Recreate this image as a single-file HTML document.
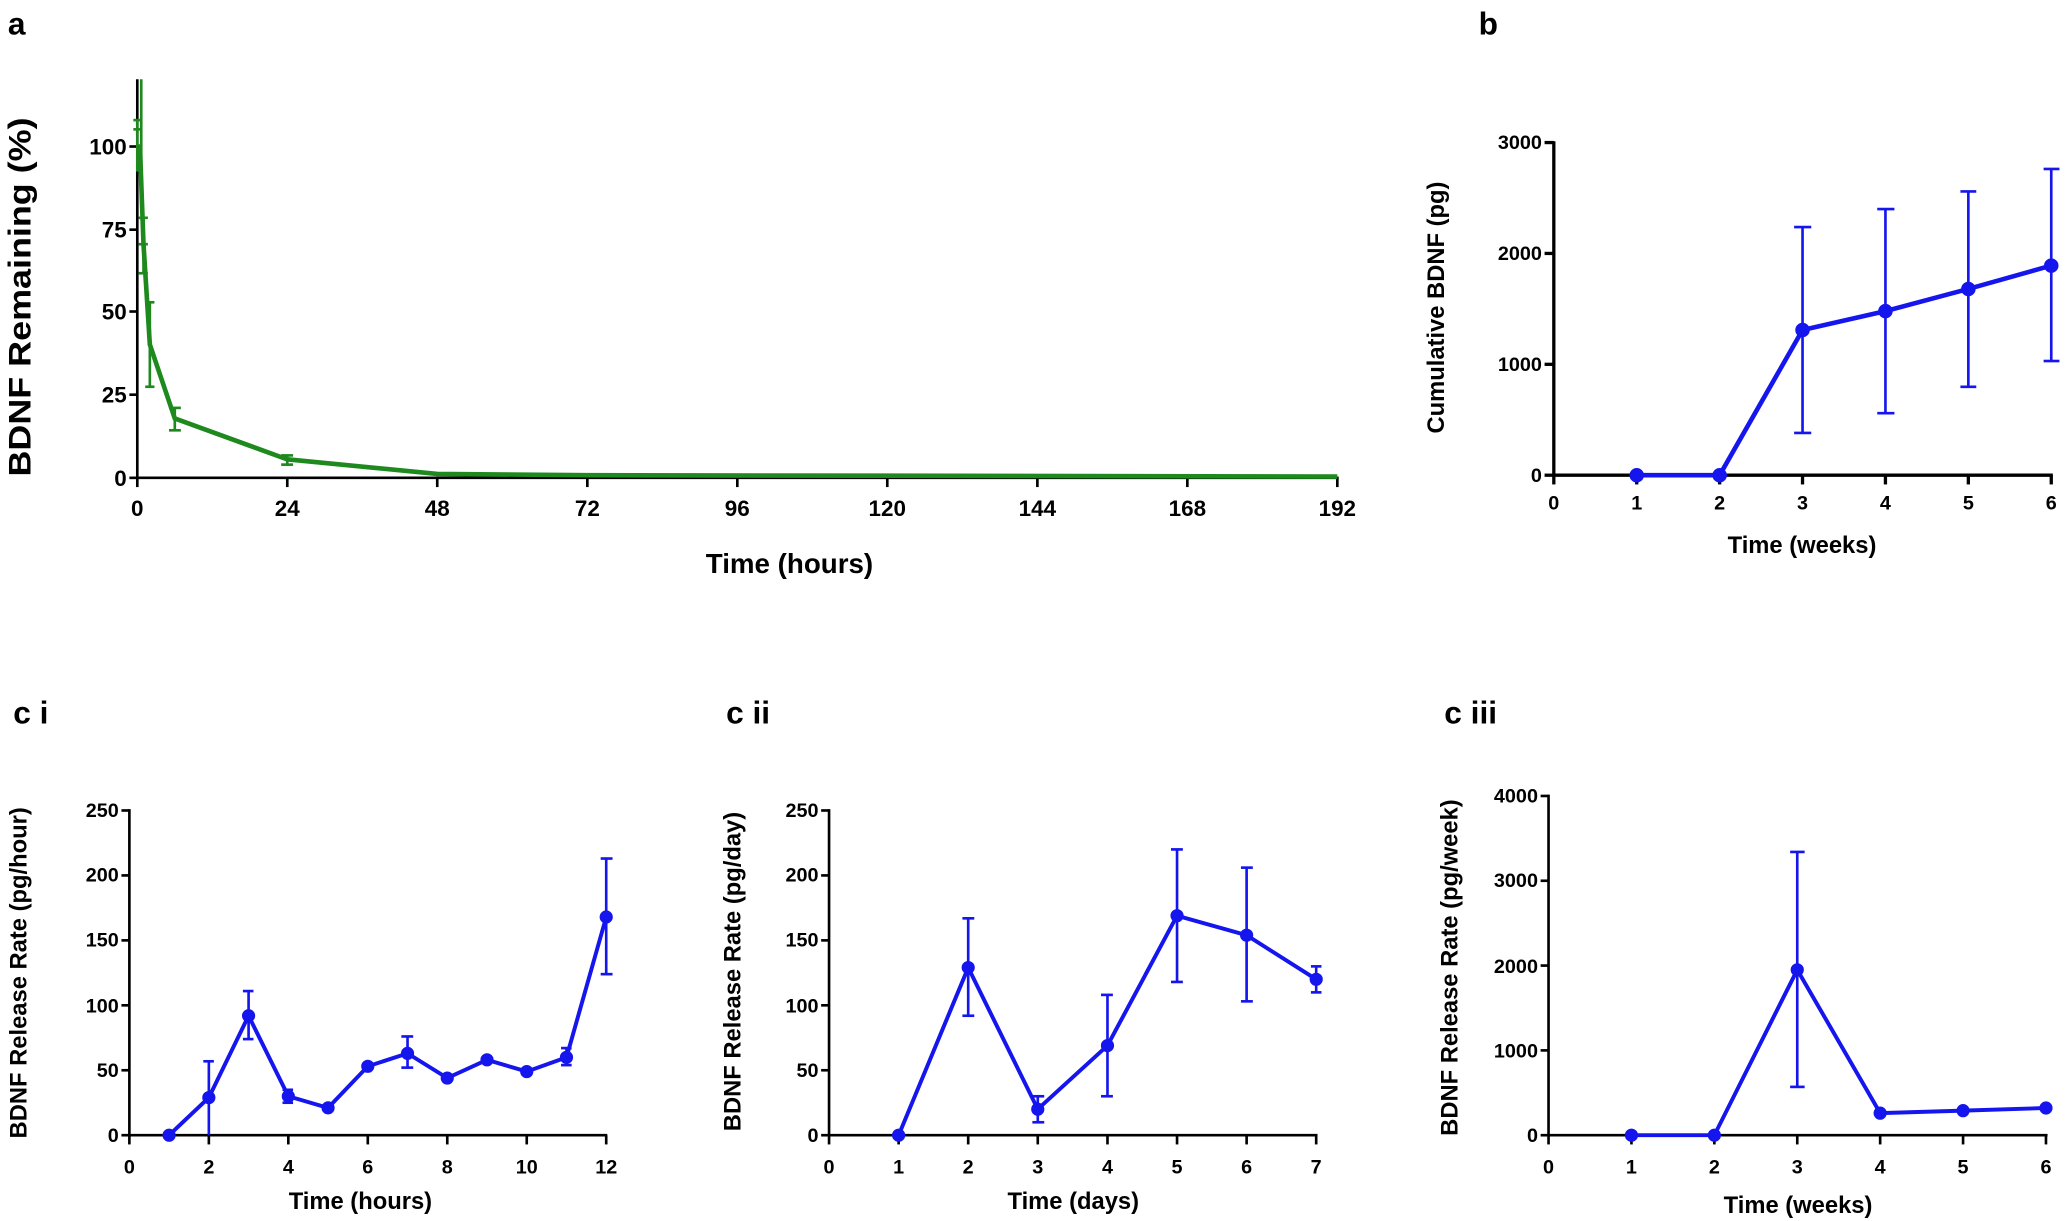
<!DOCTYPE html>
<html><head><style>html,body{margin:0;padding:0;background:#fff}svg{display:block}</style></head>
<body>
<svg width="2070" height="1221" viewBox="0 0 1568 925" preserveAspectRatio="none" xmlns="http://www.w3.org/2000/svg" font-family="Liberation Sans, sans-serif" font-weight="bold">
<rect width="1568" height="925" fill="#fff"/>
<g font-size="24" fill="#000">
<text x="6" y="26">a</text>
<text x="1120" y="26">b</text>
<text x="10" y="548">c i</text>
<text x="550" y="548">c ii</text>
<text x="1094" y="548">c iii</text>
</g>

<!-- Panel a -->
<g stroke="#000" stroke-width="2" fill="none">
<line x1="104" y1="60" x2="104" y2="363"/>
<line x1="103" y1="362" x2="1014" y2="362"/>
<line x1="98" y1="111" x2="104" y2="111"/><line x1="98" y1="174" x2="104" y2="174"/><line x1="98" y1="236" x2="104" y2="236"/><line x1="98" y1="299" x2="104" y2="299"/><line x1="98" y1="362" x2="104" y2="362"/>
<line x1="104" y1="362" x2="104" y2="369"/><line x1="217.6" y1="362" x2="217.6" y2="369"/><line x1="331.2" y1="362" x2="331.2" y2="369"/><line x1="444.9" y1="362" x2="444.9" y2="369"/><line x1="558.5" y1="362" x2="558.5" y2="369"/><line x1="672.1" y1="362" x2="672.1" y2="369"/><line x1="785.8" y1="362" x2="785.8" y2="369"/><line x1="899.4" y1="362" x2="899.4" y2="369"/><line x1="1013" y1="362" x2="1013" y2="369"/>
</g>
<g font-size="17" text-anchor="end" fill="#000">
<text x="96" y="117">100</text><text x="96" y="180">75</text><text x="96" y="242">50</text><text x="96" y="305">25</text><text x="96" y="368">0</text>
</g>
<g font-size="17" text-anchor="middle" fill="#000">
<text x="104" y="391">0</text><text x="217.6" y="391">24</text><text x="331.2" y="391">48</text><text x="444.9" y="391">72</text><text x="558.5" y="391">96</text><text x="672.1" y="391">120</text><text x="785.8" y="391">144</text><text x="899.4" y="391">168</text><text x="1013" y="391">192</text>
</g>
<text x="598" y="434" font-size="21" text-anchor="middle">Time (hours)</text>
<text transform="translate(23,225) rotate(-90)" font-size="24" text-anchor="middle" textLength="272" lengthAdjust="spacingAndGlyphs">BDNF Remaining (%)</text>
<g stroke="#1e8a1e" fill="none">
<polyline stroke-width="3.5" points="104,111 106,111 108.7,185 113.5,261 132.4,317 217.6,348 331.2,359 444.9,360 1013,361"/>
<g stroke-width="2">
<line x1="107" y1="60" x2="107" y2="140"/><line x1="104" y1="91" x2="104" y2="130"/>
<line x1="101" y1="91" x2="107" y2="91"/><line x1="101" y1="98" x2="107" y2="98"/>
<line x1="108.7" y1="165" x2="108.7" y2="207"/><line x1="105" y1="165" x2="112" y2="165"/><line x1="105" y1="207" x2="112" y2="207"/><line x1="105" y1="185" x2="112" y2="185"/>
<line x1="113.5" y1="229" x2="113.5" y2="293"/><line x1="110" y1="229" x2="117" y2="229"/><line x1="110" y1="293" x2="117" y2="293"/>
<line x1="132.4" y1="309" x2="132.4" y2="326"/><line x1="128" y1="309" x2="137" y2="309"/><line x1="128" y1="326" x2="137" y2="326"/>
<line x1="217.6" y1="345" x2="217.6" y2="352"/><line x1="213" y1="345" x2="222" y2="345"/><line x1="213" y1="352" x2="222" y2="352"/>
</g></g>

<!-- Panel b -->
<g stroke="#000" stroke-width="2.5" fill="none">
<line x1="1177" y1="107" x2="1177" y2="361"/><line x1="1176" y1="360" x2="1555" y2="360"/>
<line x1="1170" y1="108" x2="1177" y2="108"/><line x1="1170" y1="192" x2="1177" y2="192"/><line x1="1170" y1="276" x2="1177" y2="276"/><line x1="1170" y1="360" x2="1177" y2="360"/>
<line x1="1177" y1="360" x2="1177" y2="367"/><line x1="1239.8" y1="360" x2="1239.8" y2="367"/><line x1="1302.6" y1="360" x2="1302.6" y2="367"/><line x1="1365.4" y1="360" x2="1365.4" y2="367"/><line x1="1428.2" y1="360" x2="1428.2" y2="367"/><line x1="1491" y1="360" x2="1491" y2="367"/><line x1="1553.8" y1="360" x2="1553.8" y2="367"/>
</g>
<g font-size="15" text-anchor="end"><text x="1168" y="113">3000</text><text x="1168" y="197">2000</text><text x="1168" y="281">1000</text><text x="1168" y="365">0</text></g>
<g font-size="15" text-anchor="middle"><text x="1177" y="386">0</text><text x="1239.8" y="386">1</text><text x="1302.6" y="386">2</text><text x="1365.4" y="386">3</text><text x="1428.2" y="386">4</text><text x="1491" y="386">5</text><text x="1553.8" y="386">6</text></g>
<text x="1365" y="419" font-size="18" text-anchor="middle">Time (weeks)</text>
<text transform="translate(1094,233) rotate(-90)" font-size="18" text-anchor="middle">Cumulative BDNF (pg)</text>
<g stroke="#1515ee" fill="#1515ee">
<polyline fill="none" stroke-width="3.5" points="1239.8,360 1302.6,360 1365.4,250 1428.2,235.7 1491,218.9 1553.8,201.2"/>
<g stroke-width="2">
<line x1="1365.4" y1="172" x2="1365.4" y2="328"/><line x1="1359" y1="172" x2="1372" y2="172"/><line x1="1359" y1="328" x2="1372" y2="328"/>
<line x1="1428.2" y1="158.4" x2="1428.2" y2="313"/><line x1="1422" y1="158.4" x2="1435" y2="158.4"/><line x1="1422" y1="313" x2="1435" y2="313"/>
<line x1="1491" y1="145" x2="1491" y2="293"/><line x1="1485" y1="145" x2="1497" y2="145"/><line x1="1485" y1="293" x2="1497" y2="293"/>
<line x1="1553.8" y1="128" x2="1553.8" y2="273.5"/><line x1="1548" y1="128" x2="1560" y2="128"/><line x1="1548" y1="273.5" x2="1560" y2="273.5"/>
</g>
<circle cx="1239.8" cy="360" r="5"/><circle cx="1302.6" cy="360" r="5"/><circle cx="1365.4" cy="250" r="5"/><circle cx="1428.2" cy="235.7" r="5"/><circle cx="1491" cy="218.9" r="5"/><circle cx="1553.8" cy="201.2" r="5"/>
</g>

<!-- Panel c i -->
<g stroke="#000" stroke-width="2" fill="none">
<line x1="98" y1="613" x2="98" y2="861"/><line x1="97" y1="860" x2="460" y2="860"/>
<line x1="92" y1="614" x2="98" y2="614"/><line x1="92" y1="663.2" x2="98" y2="663.2"/><line x1="92" y1="712.4" x2="98" y2="712.4"/><line x1="92" y1="761.6" x2="98" y2="761.6"/><line x1="92" y1="810.8" x2="98" y2="810.8"/><line x1="92" y1="860" x2="98" y2="860"/>
<line x1="98" y1="860" x2="98" y2="867"/><line x1="158.2" y1="860" x2="158.2" y2="867"/><line x1="218.4" y1="860" x2="218.4" y2="867"/><line x1="278.6" y1="860" x2="278.6" y2="867"/><line x1="338.8" y1="860" x2="338.8" y2="867"/><line x1="399" y1="860" x2="399" y2="867"/><line x1="459.2" y1="860" x2="459.2" y2="867"/>
</g>
<g font-size="15" text-anchor="end"><text x="90" y="619">250</text><text x="90" y="668">200</text><text x="90" y="717">150</text><text x="90" y="767">100</text><text x="90" y="816">50</text><text x="90" y="865">0</text></g>
<g font-size="15" text-anchor="middle"><text x="98" y="889">0</text><text x="158.2" y="889">2</text><text x="218.4" y="889">4</text><text x="278.6" y="889">6</text><text x="338.8" y="889">8</text><text x="399" y="889">10</text><text x="459.2" y="889">12</text></g>
<text x="273" y="916" font-size="18" text-anchor="middle">Time (hours)</text>
<text transform="translate(20,737) rotate(-90)" font-size="18" text-anchor="middle">BDNF Release Rate (pg/hour)</text>
<g stroke="#1515ee" fill="#1515ee">
<polyline fill="none" stroke-width="3" points="128.1,860 158.2,831.5 188.3,769.5 218.4,830.5 248.5,839.3 278.6,807.8 308.7,798 338.8,816.7 368.9,802.9 399,811.8 429.1,801 459.2,694.7"/>
<g stroke-width="2">
<line x1="158.2" y1="804" x2="158.2" y2="860"/><line x1="154" y1="804" x2="162" y2="804"/>
<line x1="188.3" y1="750.8" x2="188.3" y2="787.2"/><line x1="184" y1="750.8" x2="192" y2="750.8"/><line x1="184" y1="787.2" x2="192" y2="787.2"/>
<line x1="218.4" y1="825.6" x2="218.4" y2="835.4"/><line x1="214" y1="825.6" x2="222" y2="825.6"/><line x1="214" y1="835.4" x2="222" y2="835.4"/>
<line x1="308.7" y1="785.2" x2="308.7" y2="808.8"/><line x1="304" y1="785.2" x2="313" y2="785.2"/><line x1="304" y1="808.8" x2="313" y2="808.8"/>
<line x1="429.1" y1="794" x2="429.1" y2="806.9"/><line x1="425" y1="794" x2="433" y2="794"/><line x1="425" y1="806.9" x2="433" y2="806.9"/>
<line x1="459.2" y1="650.4" x2="459.2" y2="738"/><line x1="455" y1="650.4" x2="464" y2="650.4"/><line x1="455" y1="738" x2="464" y2="738"/>
</g>
<circle cx="128.1" cy="860" r="4.5"/><circle cx="158.2" cy="831.5" r="4.5"/><circle cx="188.3" cy="769.5" r="4.5"/><circle cx="218.4" cy="830.5" r="4.5"/><circle cx="248.5" cy="839.3" r="4.5"/><circle cx="278.6" cy="807.8" r="4.5"/><circle cx="308.7" cy="798" r="4.5"/><circle cx="338.8" cy="816.7" r="4.5"/><circle cx="368.9" cy="802.9" r="4.5"/><circle cx="399" cy="811.8" r="4.5"/><circle cx="429.1" cy="801" r="4.5"/><circle cx="459.2" cy="694.7" r="4.5"/>
</g>

<!-- Panel c ii -->
<g stroke="#000" stroke-width="2" fill="none">
<line x1="628" y1="613" x2="628" y2="861"/><line x1="627" y1="860" x2="998" y2="860"/>
<line x1="622" y1="614" x2="628" y2="614"/><line x1="622" y1="663.2" x2="628" y2="663.2"/><line x1="622" y1="712.4" x2="628" y2="712.4"/><line x1="622" y1="761.6" x2="628" y2="761.6"/><line x1="622" y1="810.8" x2="628" y2="810.8"/><line x1="622" y1="860" x2="628" y2="860"/>
<line x1="628" y1="860" x2="628" y2="867"/><line x1="680.7" y1="860" x2="680.7" y2="867"/><line x1="733.4" y1="860" x2="733.4" y2="867"/><line x1="786.1" y1="860" x2="786.1" y2="867"/><line x1="838.9" y1="860" x2="838.9" y2="867"/><line x1="891.6" y1="860" x2="891.6" y2="867"/><line x1="944.3" y1="860" x2="944.3" y2="867"/><line x1="997" y1="860" x2="997" y2="867"/>
</g>
<g font-size="15" text-anchor="end"><text x="620" y="619">250</text><text x="620" y="668">200</text><text x="620" y="717">150</text><text x="620" y="767">100</text><text x="620" y="816">50</text><text x="620" y="865">0</text></g>
<g font-size="15" text-anchor="middle"><text x="628" y="889">0</text><text x="680.7" y="889">1</text><text x="733.4" y="889">2</text><text x="786.1" y="889">3</text><text x="838.9" y="889">4</text><text x="891.6" y="889">5</text><text x="944.3" y="889">6</text><text x="997" y="889">7</text></g>
<text x="813" y="916" font-size="18" text-anchor="middle">Time (days)</text>
<text transform="translate(561,736) rotate(-90)" font-size="18" text-anchor="middle">BDNF Release Rate (pg/day)</text>
<g stroke="#1515ee" fill="#1515ee">
<polyline fill="none" stroke-width="3" points="680.7,860 733.4,733 786.1,840.3 838.9,792.1 891.6,693.7 944.3,708.5 997,741.9"/>
<g stroke-width="2">
<line x1="733.4" y1="695.7" x2="733.4" y2="769.5"/><line x1="729" y1="695.7" x2="738" y2="695.7"/><line x1="729" y1="769.5" x2="738" y2="769.5"/>
<line x1="786.1" y1="830.5" x2="786.1" y2="850.2"/><line x1="782" y1="830.5" x2="791" y2="830.5"/><line x1="782" y1="850.2" x2="791" y2="850.2"/>
<line x1="838.9" y1="753.7" x2="838.9" y2="830.5"/><line x1="834" y1="753.7" x2="843" y2="753.7"/><line x1="834" y1="830.5" x2="843" y2="830.5"/>
<line x1="891.6" y1="643.5" x2="891.6" y2="743.9"/><line x1="887" y1="643.5" x2="896" y2="643.5"/><line x1="887" y1="743.9" x2="896" y2="743.9"/>
<line x1="944.3" y1="657.3" x2="944.3" y2="758.6"/><line x1="940" y1="657.3" x2="949" y2="657.3"/><line x1="940" y1="758.6" x2="949" y2="758.6"/>
<line x1="997" y1="732.1" x2="997" y2="751.8"/><line x1="993" y1="732.1" x2="1001" y2="732.1"/><line x1="993" y1="751.8" x2="1001" y2="751.8"/>
</g>
<circle cx="680.7" cy="860" r="4.5"/><circle cx="733.4" cy="733" r="4.5"/><circle cx="786.1" cy="840.3" r="4.5"/><circle cx="838.9" cy="792.1" r="4.5"/><circle cx="891.6" cy="693.7" r="4.5"/><circle cx="944.3" cy="708.5" r="4.5"/><circle cx="997" cy="741.9" r="4.5"/>
</g>

<!-- Panel c iii -->
<g stroke="#000" stroke-width="2" fill="none">
<line x1="1173" y1="602" x2="1173" y2="861"/><line x1="1172" y1="860" x2="1551" y2="860"/>
<line x1="1167" y1="603" x2="1173" y2="603"/><line x1="1167" y1="667.25" x2="1173" y2="667.25"/><line x1="1167" y1="731.5" x2="1173" y2="731.5"/><line x1="1167" y1="795.75" x2="1173" y2="795.75"/><line x1="1167" y1="860" x2="1173" y2="860"/>
<line x1="1173" y1="860" x2="1173" y2="867"/><line x1="1235.8" y1="860" x2="1235.8" y2="867"/><line x1="1298.6" y1="860" x2="1298.6" y2="867"/><line x1="1361.4" y1="860" x2="1361.4" y2="867"/><line x1="1424.2" y1="860" x2="1424.2" y2="867"/><line x1="1487" y1="860" x2="1487" y2="867"/><line x1="1549.8" y1="860" x2="1549.8" y2="867"/>
</g>
<g font-size="15" text-anchor="end"><text x="1165" y="608">4000</text><text x="1165" y="672">3000</text><text x="1165" y="737">2000</text><text x="1165" y="801">1000</text><text x="1165" y="865">0</text></g>
<g font-size="15" text-anchor="middle"><text x="1173" y="889">0</text><text x="1235.8" y="889">1</text><text x="1298.6" y="889">2</text><text x="1361.4" y="889">3</text><text x="1424.2" y="889">4</text><text x="1487" y="889">5</text><text x="1549.8" y="889">6</text></g>
<text x="1362" y="919" font-size="18" text-anchor="middle">Time (weeks)</text>
<text transform="translate(1104,733) rotate(-90)" font-size="18" text-anchor="middle">BDNF Release Rate (pg/week)</text>
<g stroke="#1515ee" fill="#1515ee">
<polyline fill="none" stroke-width="3" points="1235.8,860 1298.6,860 1361.4,734.7 1424.2,843.3 1487,841.4 1549.8,839.4"/>
<g stroke-width="2">
<line x1="1361.4" y1="645.4" x2="1361.4" y2="823.4"/><line x1="1356" y1="645.4" x2="1367" y2="645.4"/><line x1="1356" y1="823.4" x2="1367" y2="823.4"/>
</g>
<circle cx="1235.8" cy="860" r="4.5"/><circle cx="1298.6" cy="860" r="4.5"/><circle cx="1361.4" cy="734.7" r="4.5"/><circle cx="1424.2" cy="843.3" r="4.5"/><circle cx="1487" cy="841.4" r="4.5"/><circle cx="1549.8" cy="839.4" r="4.5"/>
</g>
</svg>
</body></html>
